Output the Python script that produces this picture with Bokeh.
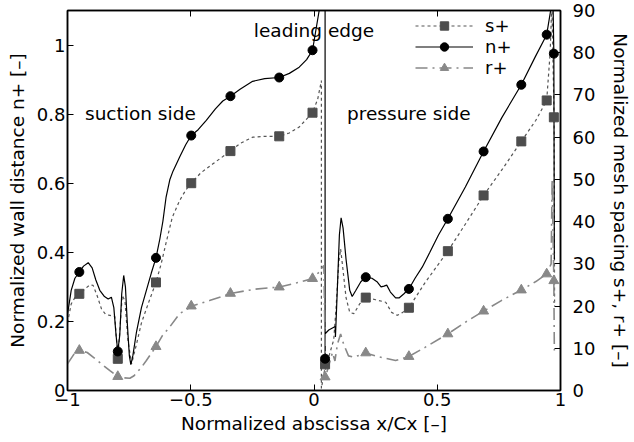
from bokeh.plotting import figure
from bokeh.models import (Range1d, LinearAxis, FixedTicker, Legend, LegendItem, Label)
from bokeh.embed import file_html
from bokeh.resources import INLINE

# --- n+ (wall distance) along the blade, left axis ---
n_x = [-1.0, -0.985, -0.97, -0.952, -0.935, -0.916, -0.9, -0.885, -0.869, -0.85,
       -0.835, -0.822, -0.812, -0.803, -0.796, -0.788, -0.78, -0.772, -0.765, -0.757,
       -0.749, -0.743, -0.735, -0.72, -0.7, -0.68, -0.66, -0.641, -0.625, -0.613,
       -0.6, -0.585, -0.572, -0.545, -0.52, -0.498, -0.47, -0.437, -0.4, -0.37,
       -0.339, -0.3, -0.249, -0.2, -0.141, -0.1, -0.06, -0.03, -0.006, 0.021,
       0.035, 0.045, 0.045, 0.046, 0.06, 0.086, 0.087, 0.095, 0.103, 0.11,
       0.118, 0.13, 0.145, 0.155, 0.17, 0.19, 0.21, 0.235, 0.257, 0.272,
       0.284, 0.295, 0.31, 0.331, 0.345, 0.365, 0.385, 0.41, 0.439, 0.47,
       0.505, 0.543, 0.614, 0.688, 0.762, 0.841, 0.897, 0.944, 0.96, 0.968,
       0.973, 0.975]
n_val = [0.22, 0.29, 0.325, 0.343, 0.36, 0.37, 0.355, 0.32, 0.29, 0.272,
         0.265, 0.27, 0.24, 0.16, 0.113, 0.16, 0.28, 0.333, 0.3, 0.19,
         0.1, 0.075, 0.1, 0.17, 0.24, 0.29, 0.34, 0.384, 0.44, 0.49,
         0.56, 0.61, 0.635, 0.676, 0.712, 0.738, 0.755, 0.782, 0.815, 0.838,
         0.852, 0.872, 0.895, 0.903, 0.906, 0.918, 0.936, 0.958, 0.985, 1.1,
         1.3, 1.3, 0.092, 0.165, 0.175, 0.185, 0.155, 0.3, 0.45, 0.5,
         0.47, 0.38, 0.29, 0.272, 0.29, 0.315, 0.328, 0.325, 0.314, 0.3,
         0.302, 0.305, 0.285, 0.268, 0.268, 0.28, 0.294, 0.325, 0.357, 0.4,
         0.45, 0.497, 0.589, 0.692, 0.79, 0.885, 0.965, 1.03, 1.1, 1.2,
         0.975, 0.38]

# --- s+ (mesh spacing), right axis ---
s_x = [-1.0, -0.985, -0.97, -0.952, -0.93, -0.91, -0.896, -0.88, -0.862, -0.845,
       -0.828, -0.808, -0.8, -0.796, -0.788, -0.778, -0.767, -0.755, -0.74, -0.72,
       -0.7, -0.67, -0.641, -0.62, -0.6, -0.575, -0.545, -0.52, -0.498, -0.46,
       -0.41, -0.339, -0.3, -0.249, -0.2, -0.141, -0.1, -0.06, -0.006, 0.015,
       0.03, 0.03, 0.047, 0.06, 0.08, 0.09, 0.1, 0.108, 0.115, 0.13,
       0.145, 0.162, 0.185, 0.21, 0.25, 0.291, 0.315, 0.338, 0.36, 0.385,
       0.45, 0.543, 0.615, 0.688, 0.765, 0.841, 0.9, 0.944, 0.958, 0.965,
       0.974, 0.976]
s_val = [16.0, 20.5, 22.0, 22.9, 24.0, 25.0, 24.9, 22.5, 19.3, 18.0,
         17.8, 17.5, 11.0, 7.5, 14.0, 22.5, 21.3, 12.0, 6.3, 11.0,
         16.0, 21.0, 25.6, 30.0, 35.0, 41.0, 45.0, 47.5, 49.1, 51.5,
         53.7, 56.7, 58.5, 60.0, 60.2, 60.2, 61.0, 62.4, 65.8, 69.0,
         73.4, 0.5, 6.2, 8.0, 12.0, 20.0, 30.0, 33.5, 30.0, 22.0,
         18.5, 18.2, 20.5, 22.0, 21.5, 20.9, 18.5, 17.8, 18.5, 19.6,
         25.5, 33.0, 39.5, 46.2, 52.5, 59.0, 64.0, 68.7, 80.0, 92.0,
         64.7, 20.0]

# --- r+ (mesh spacing), right axis ---
r_x = [-1.0, -0.975, -0.952, -0.92, -0.896, -0.86, -0.828, -0.796, -0.77, -0.747,
       -0.73, -0.7, -0.68, -0.641, -0.615, -0.586, -0.545, -0.495, -0.424, -0.336,
       -0.24, -0.141, -0.07, -0.006, 0.02, 0.04, 0.047, 0.06, 0.075, 0.085,
       0.095, 0.108, 0.12, 0.14, 0.162, 0.21, 0.26, 0.331, 0.385, 0.45,
       0.543, 0.615, 0.688, 0.76, 0.841, 0.9, 0.944, 0.962, 0.966, 0.973,
       0.975]
r_val = [6.3, 8.5, 9.5, 9.0, 7.9, 6.2, 4.7, 3.3, 3.0, 2.9,
         3.5, 5.5, 7.1, 10.4, 13.0, 15.0, 18.2, 20.0, 21.3, 23.0,
         24.0, 24.5, 25.5, 26.5, 28.0, 29.6, 3.2, 6.0, 9.0, 7.0,
         11.0, 13.4, 11.0, 8.2, 7.9, 8.9, 8.0, 7.1, 8.05, 10.2,
         13.4, 16.2, 18.8, 21.3, 23.8, 25.8, 27.6, 30.0, 50.0, 26.0,
         9.5]

# --- marked stations shared by all three series ---
mark_x = [-0.952, -0.796, -0.641, -0.498, -0.339, -0.141, -0.006, 0.045,
          0.21, 0.385, 0.543, 0.688, 0.841, 0.944, 0.973]
n_mark = [0.343, 0.113, 0.384, 0.738, 0.852, 0.906, 0.985, 0.092,
          0.328, 0.294, 0.497, 0.692, 0.885, 1.03, 0.975]
s_mark = [22.9, 7.5, 25.6, 49.1, 56.7, 60.2, 65.8, 6.2,
          22.0, 19.6, 33.0, 46.2, 59.0, 68.7, 64.7]
r_mark = [9.5, 3.3, 10.4, 20.0, 23.0, 24.5, 26.5, 3.2,
          8.9, 8.05, 13.4, 18.8, 23.8, 27.6, 26.0]

x_ticks = [-1, -0.5, 0, 0.5, 1]
x_tick_labels = {-1: "\u22121", -0.5: "\u22120.5", 0: "0", 0.5: "0.5", 1: "1"}
n_ticks = [0, 0.2, 0.4, 0.6, 0.8, 1.0]
n_tick_labels = {0: "0", 0.2: "0.2", 0.4: "0.4", 0.6: "0.6", 0.8: "0.8", 1.0: "1"}
s_ticks = [0, 10, 20, 30, 40, 50, 60, 70, 80, 90]

FONT = "DejaVu Sans"
TICK_SIZE = "18px"
LABEL_SIZE = "18.5px"

p = figure(width=634, height=442, output_backend="svg", toolbar_location=None,
           x_range=Range1d(-1, 1), y_range=Range1d(0, 1.1),
           min_border_left=67, min_border_right=72, min_border_top=10,
           min_border_bottom=52, x_axis_location=None, y_axis_location=None)
p.extra_y_ranges = {"mesh": Range1d(0, 90)}
p.grid.visible = False
p.outline_line_color = "black"
p.outline_line_width = 1.5
p.background_fill_color = "white"
p.border_fill_color = "white"


def style_axis(ax, standoff):
    ax.axis_line_color = "black"
    ax.axis_line_width = 1.5
    ax.major_tick_in = 6
    ax.major_tick_out = 0
    ax.major_tick_line_color = "black"
    ax.minor_tick_line_color = None
    ax.major_label_text_font = FONT
    ax.major_label_text_font_size = TICK_SIZE
    ax.major_label_text_color = "black"
    ax.major_label_standoff = standoff
    ax.axis_label_text_font = FONT
    ax.axis_label_text_font_size = LABEL_SIZE
    ax.axis_label_text_font_style = "normal"
    ax.axis_label_text_color = "black"


xb = LinearAxis(ticker=FixedTicker(ticks=x_ticks), axis_label="Normalized abscissa x/Cx [\u2013]")
xb.major_label_overrides = x_tick_labels
style_axis(xb, 2)
xb.axis_label_standoff = 4
p.add_layout(xb, "below")

xt = LinearAxis(ticker=FixedTicker(ticks=x_ticks))
style_axis(xt, 0)
xt.major_label_text_font_size = "0px"
xt.major_label_text_color = None
p.add_layout(xt, "above")

yl = LinearAxis(ticker=FixedTicker(ticks=n_ticks), axis_label="Normalized wall distance n+ [\u2013]")
yl.major_label_overrides = n_tick_labels
style_axis(yl, 2)
yl.axis_label_standoff = 6
p.add_layout(yl, "left")

yr = LinearAxis(y_range_name="mesh", ticker=FixedTicker(ticks=s_ticks),
                axis_label="Normalized mesh spacing s+, r+ [\u2013]")
style_axis(yr, 12)
yr.axis_label_standoff = 12
p.add_layout(yr, "right")

# curves
s_line = p.line(s_x, s_val, y_range_name="mesh", line_color="#555555",
                line_width=1.2, line_dash="3 3")
n_line = p.line(n_x, n_val, line_color="black", line_width=1.2)
r_line = p.line(r_x, r_val, y_range_name="mesh", line_color="#888888",
                line_width=1.6, line_dash="12 5 2 5")

s_pts = p.scatter(mark_x, s_mark, y_range_name="mesh", marker="square", size=9,
                  fill_color="#4d4d4d", line_color="#4d4d4d")
n_pts = p.scatter(mark_x, n_mark, marker="circle", size=9,
                  fill_color="black", line_color="black")
r_pts = p.scatter(mark_x, r_mark, y_range_name="mesh", marker="triangle", size=10,
                  fill_color="#888888", line_color="#888888")

legend = Legend(items=[
    LegendItem(label="s+", renderers=[s_line, s_pts]),
    LegendItem(label="n+", renderers=[n_line, n_pts]),
    LegendItem(label="r+", renderers=[r_line, r_pts]),
], location=(348, 312))
legend.background_fill_alpha = 0
legend.border_line_color = None
legend.padding = 0
legend.margin = 0
legend.spacing = 0
legend.glyph_width = 58
legend.glyph_height = 21
legend.label_height = 21
legend.label_standoff = 12
legend.label_text_font = FONT
legend.label_text_font_size = "18px"
legend.label_text_color = "black"
p.add_layout(legend)

for txt, xx, yy, align in [("leading edge", 0.0, 1.043, "center"),
                           ("suction side", -0.929, 0.802, "left"),
                           ("pressure side", 0.134, 0.802, "left")]:
    p.add_layout(Label(x=xx, y=yy, text=txt, text_align=align, text_baseline="middle",
                       text_font=FONT, text_font_size=LABEL_SIZE, text_color="black"))

open("out.html", "w").write(file_html(p, INLINE))
